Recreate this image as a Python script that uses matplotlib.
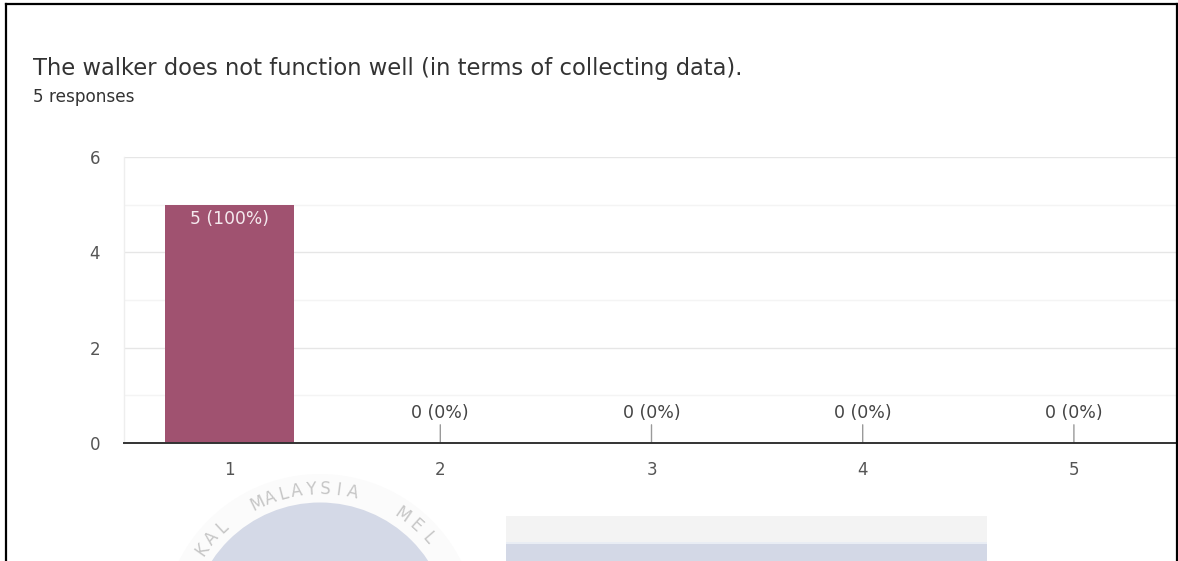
import numpy as np
import matplotlib
matplotlib.use("Agg")
import matplotlib.pyplot as plt
from matplotlib.patches import Rectangle, Circle
from matplotlib.lines import Line2D
from matplotlib.transforms import IdentityTransform

plt.rcParams['font.family'] = ['DejaVu Sans']

# ---- chart content ----
title = "The walker does not function well (in terms of collecting data)."
subtitle = "5 responses"
categories = ["1", "2", "3", "4", "5"]
counts = [5, 0, 0, 0, 0]
y_major = [0, 2, 4, 6]
y_minor = [1, 3, 5]

# ---- seal text around the page emblem ----
seal_words = ["KAL", "MALAYSIA", "MEL"]
seal_start_deg = [145, 116, 55]
seal_step_deg = [-6.0, -5.6, -7.0]

W, H = 1178, 561
DPI = 100
fig = plt.figure(figsize=(W / DPI, H / DPI), dpi=DPI)
fig.patch.set_facecolor("white")
ident = IdentityTransform()


def fx(x):
    return x / W


def fy(y):
    return 1 - y / H


# ---- title block ----
fig.text(fx(33), fy(68), title, fontsize=16.3, color="#333333", va="center", ha="left")
fig.text(fx(33), fy(97), subtitle, fontsize=12.2, color="#333333", va="center", ha="left")

# ---- bar chart ----
ax = fig.add_axes([fx(123.5), fy(443), (1179.5 - 123.5) / W, (443 - 157) / H])
pos = np.arange(1, len(categories) + 1)
ax.bar(pos, counts, width=0.61, color="#A05270", zorder=3)
ax.set_xlim(0.5, len(categories) + 0.5)
ax.set_ylim(0, 6)
ax.set_yticks(y_major)
ax.set_yticks(y_minor, minor=True)
ax.set_xticks(pos)
ax.set_xticklabels(categories)
ax.grid(axis="y", which="major", color="#E6E6E6", lw=1.0, zorder=0)
ax.grid(axis="y", which="minor", color="#F4F4F4", lw=1.0, zorder=0)
ax.grid(axis="x", visible=False)
ax.tick_params(axis="both", which="both", length=0, labelsize=12, labelcolor="#555555")
ax.tick_params(axis="y", pad=17)
ax.tick_params(axis="x", pad=13)
for s in ("top", "right"):
    ax.spines[s].set_visible(False)
ax.spines["left"].set_color("#EEEEEE")
ax.spines["left"].set_linewidth(1.0)
ax.spines["bottom"].set_color("#333333")
ax.spines["bottom"].set_linewidth(1.4)
ax.spines["bottom"].set_zorder(5)

total = sum(counts)
for p, c in zip(pos, counts):
    label = f"{c} ({round(100 * c / total)}%)"
    if c > 0:
        ax.annotate(label, xy=(p, c), xytext=(0, -14), textcoords="offset pixels",
                    ha="center", va="center", fontsize=12.3, color="#F5E9EE", zorder=4)
    else:
        ax.annotate(label, xy=(p, c), xytext=(0, 30), textcoords="offset pixels",
                    ha="center", va="center", fontsize=12.5, color="#444444", zorder=4,
                    arrowprops=dict(arrowstyle="-", color="#9A9A9A", lw=1.0,
                                    shrinkA=0, shrinkB=0))

# ---- emblem at the foot of the page ----
cx, cy = 320, H - 632
fig.add_artist(Circle((cx, cy), 158, transform=ident, facecolor="#FBFBFB",
                      edgecolor="none", zorder=0))
fig.add_artist(Circle((cx, cy), 129.5, transform=ident, facecolor="#D4D9E7",
                      edgecolor="none", zorder=0))
r_text = 143
for word, a0, step in zip(seal_words, seal_start_deg, seal_step_deg):
    for i, ch in enumerate(word):
        a = np.deg2rad(a0 + step * i)
        tx = cx + r_text * np.cos(a)
        ty = cy + r_text * np.sin(a)
        fig.text(tx / W, ty / H, ch, fontsize=12, color="#C6C6C6",
                 ha="center", va="center", rotation=np.rad2deg(a) - 90, zorder=1)

# ---- panel below the chart ----
fig.add_artist(Rectangle((506, H - 542), 481, 26, transform=ident,
                         facecolor="#F3F3F3", edgecolor="none", zorder=0))
fig.add_artist(Rectangle((506, H - 544), 481, 2, transform=ident,
                         facecolor="#E9EDF4", edgecolor="none", zorder=0))
fig.add_artist(Rectangle((506, 0), 481, H - 544, transform=ident,
                         facecolor="#D3D8E6", edgecolor="none", zorder=0))

# ---- frame ----
frame_kw = dict(color="black", lw=1.6, transform=fig.transFigure, zorder=10)
fig.add_artist(Line2D([fx(5.5), fx(5.5)], [0, fy(3.5)], **frame_kw))
fig.add_artist(Line2D([fx(5.5), fx(1176.5)], [fy(3.5), fy(3.5)], **frame_kw))
fig.add_artist(Line2D([fx(1176.5), fx(1176.5)], [0, fy(3.5)], **frame_kw))

fig.savefig("out.png", dpi=DPI, facecolor="white")
